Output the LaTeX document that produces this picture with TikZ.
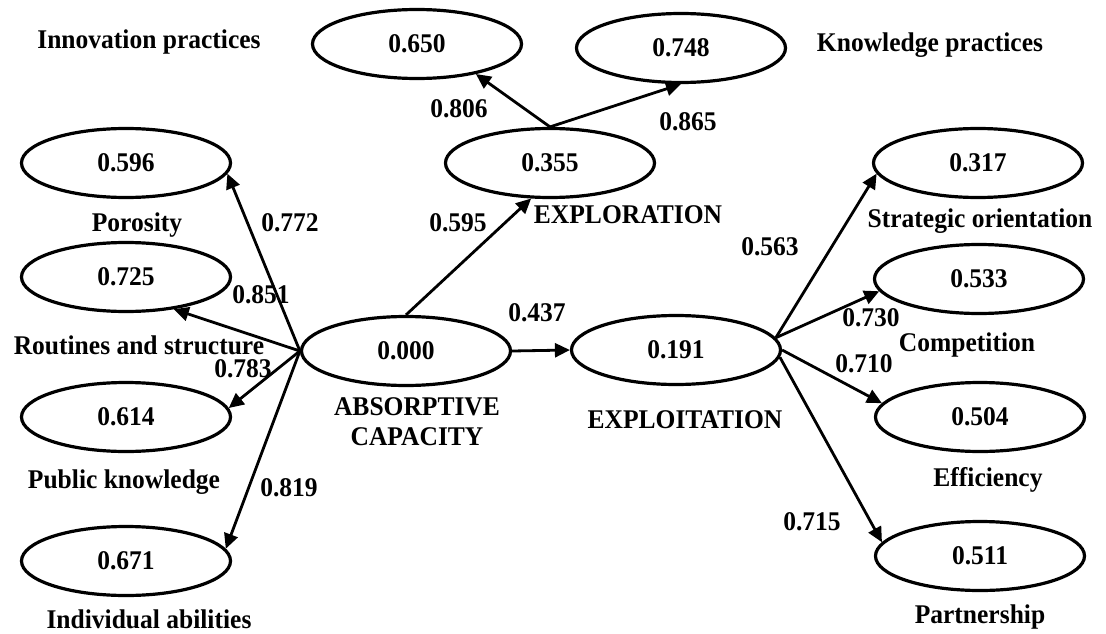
\documentclass[tikz,border=0pt]{standalone}
\usepackage{fontspec}
\setmainfont[FakeStretch=0.945]{Liberation Serif}
\usetikzlibrary{arrows.meta,shapes.geometric}
\begin{document}
\begin{tikzpicture}[x=1pt,y=-1pt,
  every node/.style={font=\fontsize{27}{30}\selectfont\bfseries, inner sep=0pt},
  lv/.style={ellipse, draw, line width=3.2pt, minimum width=209pt, minimum height=69pt},
  arr/.style={-{Triangle[length=15pt,width=14pt]}, line width=2.8pt},
  lab/.style={align=center}
  ]
\path[use as bounding box, fill=white] (0,0) rectangle (1106,634);
% ellipses
\node[lv] (E650) at (417,44) {0.650};
\node[lv] (E748) at (681,48) {0.748};
\node[lv] (E355) at (550,163) {0.355};
\node[lv] (E000) at (406,351) {0.000};
\node[lv] (E191) at (676,350) {0.191};
\node[lv] (E596) at (126,163) {0.596};
\node[lv] (E725) at (126,277) {0.725};
\node[lv] (E614) at (126,417) {0.614};
\node[lv] (E671) at (126,561) {0.671};
\node[lv] (E317) at (978,163) {0.317};
\node[lv] (E533) at (979,279) {0.533};
\node[lv] (E504) at (980,417) {0.504};
\node[lv] (E511) at (980,556) {0.511};
% names
\node (tInn) at (149,42) {Innovation practices};
\node (tKno) at (930,45) {Knowledge practices};
\node (tExplor) at (628,215) {EXPLORATION};
\node[lab] (tAcap) at (417,422) {ABSORPTIVE\\CAPACITY};
\node (tExploit) at (685,420) {EXPLOITATION};
\node (tPor) at (137,225) {Porosity};
\node (tRout) at (139,345) {Routines and structure};
\node (tPub) at (124,482) {Public knowledge};
\node (tInd) at (149,619) {Individual abilities};
\node (tStr) at (980,221) {Strategic orientation};
\node (tCom) at (967,345) {Competition};
\node (tEff) at (988,480) {Efficiency};
\node (tPar) at (980,617) {Partnership};
% connectors
\draw[arr] (E355.north) -- (E650.-27);
\draw[arr] (E355.north) -- (E748.south);
\draw[arr] (E000.north) -- (E355.-118);
\draw[arr] (E000.east) -- (E191.west);
\draw[arr] (E000.west) -- (E596.-6);
\draw[arr] (E000.west) -- (E725.-34);
\draw[arr] (E000.west) -- (E614.5);
\draw[arr] (E000.west) -- (E671.7);
\draw[arr] (E191.7) -- (E317.186);
\draw[arr] (E191.7) -- (E533.187);
\draw[arr] (E191.east) -- (E504.172);
\draw[arr] (E191.-4) -- (E511.172);
% coefficients
\node (c806) at (459,109) {0.806};
\node (c865) at (688,122) {0.865};
\node (c595) at (458,223) {0.595};
\node (c437) at (537,313) {0.437};
\node (c772) at (290,223) {0.772};
\node (c851) at (261,295) {0.851};
\node (c783) at (243,369) {0.783};
\node (c819) at (289,488) {0.819};
\node (c563) at (770,247) {0.563};
\node (c730) at (871,318) {0.730};
\node (c710) at (864,364) {0.710};
\node (c715) at (812,522) {0.715};
\end{tikzpicture}
\end{document}
